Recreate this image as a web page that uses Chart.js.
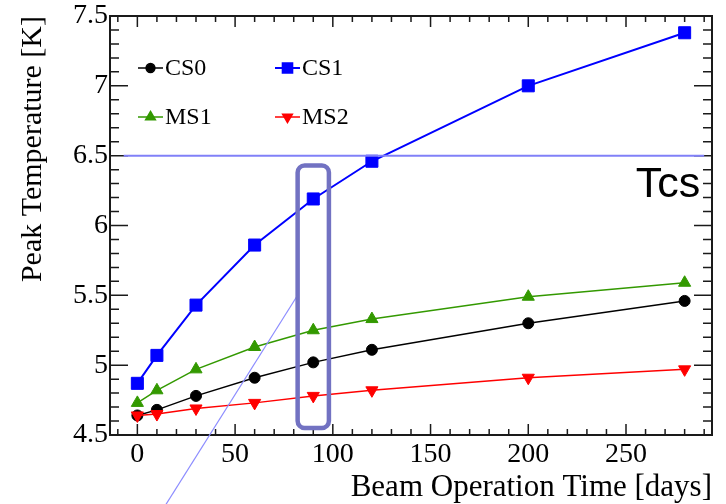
<!DOCTYPE html>
<html lang="en">
<head>
<meta charset="UTF-8">
<title>Peak Temperature vs Beam Operation Time</title>
<script src="https://cdn.jsdelivr.net/npm/chart.js"></script>
<style>
  body { margin: 0; background: #fff; }
  canvas { display: block; }
</style>
</head>
<body>
<canvas id="tempChart" width="726" height="504"></canvas>
<script>
// beam operation time [days] and peak temperature [K] per coil
const days = [0, 10, 30, 60, 90, 120, 200, 280];
const cs0 = [4.64, 4.68, 4.78, 4.91, 5.02, 5.11, 5.30, 5.46];
const cs1 = [4.87, 5.07, 5.43, 5.86, 6.19, 6.46, 7.00, 7.38];
const ms1 = [4.73, 4.82, 4.97, 5.13, 5.25, 5.33, 5.49, 5.59];
const ms2 = [4.64, 4.65, 4.69, 4.73, 4.78, 4.82, 4.91, 4.97];

const xTicks = [0, 50, 100, 150, 200, 250];
const yTicks = [4.5, 5, 5.5, 6, 6.5, 7, 7.5];

// current sharing temperature line and the highlight box / pointer
const tcs = 6.5;
const tcsSpan = [-7, 290];
const boxX = [82, 98];
const boxY = [4.55, 6.43];
const pointerX = [81.5, 14.5];
const pointerY = [5.49, 4.0];

const serif = 'Liberation Serif';

function series(label, values, color, style, radius, rotation, width, order) {
  return {
    label: label,
    data: days.map((d, i) => ({ x: d, y: values[i] })),
    borderColor: color,
    backgroundColor: color,
    pointBackgroundColor: color,
    pointBorderColor: color,
    pointStyle: style,
    pointRadius: radius,
    pointRotation: rotation,
    pointBorderWidth: 1,
    borderWidth: width,
    tension: 0,
    order: order
  };
}

// ROOT style frame with inner ticks on all four sides
const frame = {
  id: 'frame',
  beforeDatasetsDraw(chart) {
    const { ctx, chartArea: a, scales: { x, y } } = chart;
    ctx.save();
    ctx.strokeStyle = '#1a1a1a';
    ctx.lineWidth = 1.5;
    ctx.beginPath();
    for (let v = -10; v <= 290; v += 10) {
      const px = x.getPixelForValue(v);
      const len = v % 50 === 0 ? 11 : 6;
      ctx.moveTo(px, a.bottom); ctx.lineTo(px, a.bottom - len);
      ctx.moveTo(px, a.top); ctx.lineTo(px, a.top + len);
    }
    for (let k = 45; k <= 75; k++) {
      const py = y.getPixelForValue(k / 10);
      const len = k % 5 === 0 ? 18 : 9;
      ctx.moveTo(a.left, py); ctx.lineTo(a.left + len, py);
      ctx.moveTo(a.right, py); ctx.lineTo(a.right - len, py);
    }
    ctx.stroke();
    ctx.lineWidth = 2;
    ctx.strokeRect(a.left, a.top, a.right - a.left, a.bottom - a.top);
    ctx.restore();
  }
};

const marks = {
  id: 'marks',
  afterDatasetsDraw(chart) {
    const { ctx, scales: { x, y } } = chart;
    ctx.save();
    // Tcs line
    const ty = y.getPixelForValue(tcs);
    ctx.strokeStyle = '#8080f8';
    ctx.lineWidth = 2;
    ctx.beginPath();
    ctx.moveTo(x.getPixelForValue(tcsSpan[0]), ty);
    ctx.lineTo(x.getPixelForValue(tcsSpan[1]), ty);
    ctx.stroke();
    ctx.fillStyle = '#000';
    ctx.font = '43px "Liberation Sans"';
    ctx.textAlign = 'right';
    ctx.textBaseline = 'alphabetic';
    ctx.fillText('Tcs', x.getPixelForValue(tcsSpan[1]) - 4, ty + 41);

    // pointer line
    ctx.strokeStyle = '#8c8cff';
    ctx.lineWidth = 1.2;
    ctx.beginPath();
    ctx.moveTo(x.getPixelForValue(pointerX[0]), y.getPixelForValue(pointerY[0]));
    ctx.lineTo(x.getPixelForValue(pointerX[1]), y.getPixelForValue(pointerY[1]));
    ctx.stroke();

    // highlight box around 90 days
    const bx0 = x.getPixelForValue(boxX[0]), bx1 = x.getPixelForValue(boxX[1]);
    const by0 = y.getPixelForValue(boxY[1]), by1 = y.getPixelForValue(boxY[0]);
    ctx.strokeStyle = '#7272c2';
    ctx.lineWidth = 4.5;
    ctx.beginPath();
    ctx.roundRect(bx0, by0, bx1 - bx0, by1 - by0, 7);
    ctx.stroke();
    ctx.restore();
  }
};

// two-column legend inside the frame
const legendBox = {
  id: 'legendBox',
  afterDraw(chart) {
    const { ctx } = chart;
    const slots = [[138, 68], [275, 68], [138, 117], [275, 117]];
    const order = [0, 1, 2, 3];
    ctx.save();
    ctx.font = '24px "' + serif + '"';
    ctx.textBaseline = 'middle';
    ctx.textAlign = 'left';
    order.forEach((di, i) => {
      const ds = chart.data.datasets[di];
      const [lx, ly] = slots[i];
      ctx.strokeStyle = ds.borderColor;
      ctx.lineWidth = ds.borderWidth;
      ctx.beginPath();
      ctx.moveTo(lx, ly); ctx.lineTo(lx + 25, ly);
      ctx.stroke();
      ctx.fillStyle = ds.backgroundColor;
      Chart.helpers.drawPoint(ctx, {
        pointStyle: ds.pointStyle,
        rotation: ds.pointRotation,
        radius: ds.pointRadius * 0.8,
        borderWidth: 1
      }, lx + 12.5, ly);
      ctx.fillStyle = '#000';
      ctx.fillText(ds.label, lx + 27, ly + 1);
    });
    ctx.restore();
  }
};

new Chart(document.getElementById('tempChart'), {
  type: 'line',
  data: {
    datasets: [
      series('CS0', cs0, '#000000', 'circle', 5.5, 0, 1.5, 3),
      series('CS1', cs1, '#0000ff', 'rect', 8.5, 0, 2, 2),
      series('MS1', ms1, '#339900', 'triangle', 7, 0, 1.5, 4),
      series('MS2', ms2, '#ff0000', 'triangle', 7, 180, 1.5, 1)
    ]
  },
  options: {
    responsive: false,
    animation: false,
    layout: { padding: { top: 14, right: 14, left: 0, bottom: 0 } },
    plugins: {
      legend: { display: false },
      tooltip: { enabled: false }
    },
    scales: {
      x: {
        type: 'linear',
        min: -14,
        max: 294,
        afterBuildTicks: s => { s.ticks = xTicks.map(v => ({ value: v })); },
        afterFit: s => { s.height = 69; },
        grid: { display: false, drawTicks: false },
        border: { display: false },
        ticks: {
          font: { family: serif, size: 28, lineHeight: 1 },
          color: '#000',
          padding: 6,
          maxRotation: 0,
          autoSkip: false,
          callback: v => String(v)
        },
        title: {
          display: true,
          text: 'Beam Operation Time [days]',
          align: 'end',
          color: '#000',
          font: { family: serif, size: 31, lineHeight: 1.05 },
          padding: 0
        }
      },
      y: {
        type: 'linear',
        min: 4.5,
        max: 7.5,
        afterBuildTicks: s => { s.ticks = yTicks.map(v => ({ value: v })); },
        afterFit: s => { s.width = 110; },
        grid: { display: false, drawTicks: false },
        border: { display: false },
        ticks: {
          font: { family: serif, size: 28, lineHeight: 1 },
          color: '#000',
          padding: 2,
          autoSkip: false,
          callback: v => String(v)
        },
        title: {
          display: true,
          text: 'Peak Temperature [K]',
          align: 'end',
          color: '#000',
          font: { family: serif, size: 30, lineHeight: 1.2 },
          padding: { top: 15, bottom: 0 }
        }
      }
    }
  },
  plugins: [frame, marks, legendBox]
});
</script>
</body>
</html>
